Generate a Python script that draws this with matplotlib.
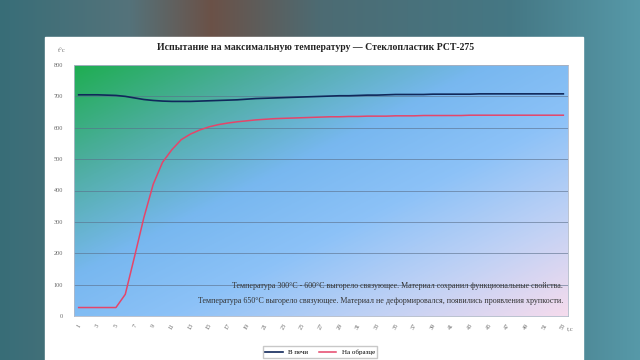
import numpy as np
import matplotlib.pyplot as plt
from matplotlib.colors import LinearSegmentedColormap
from matplotlib.patches import Rectangle

plt.rcParams['font.family'] = ['Liberation Serif', 'DejaVu Serif']

title = "Испытание на максимальную температуру — Стеклопластик РСТ-275"
x = list(range(1, 54))
x_ticks = list(range(1, 54, 2))
oven = [705, 705, 705, 704, 703, 700, 695, 690, 687, 685,
        684, 684, 684, 685, 686, 687, 688, 689, 691, 693,
        694, 695, 696, 697, 698, 699, 700, 701, 702, 702,
        703, 704, 704, 705, 706, 706, 706, 706, 707, 707,
        707, 707, 707, 708, 708, 708, 708, 708, 708, 708,
        708, 708, 708]
sample = [27, 27, 27, 27, 27, 69, 190, 314, 420, 490,
          530, 562, 580, 593, 603, 610, 615, 619, 622, 625,
          627, 629, 630, 631, 632, 633, 634, 635, 635, 636,
          636, 637, 637, 637, 638, 638, 638, 639, 639, 639,
          639, 639, 640, 640, 640, 640, 640, 640, 640, 640,
          640, 640, 640]
note1 = "Температура 300°C - 600°C выгорело связующее. Материал сохранил функциональные свойства."
note2 = "Температура 650°C выгорело связующее. Материал не деформировался, появились проявления хрупкости."

fig = plt.figure(figsize=(6.4, 3.6), dpi=100)

# blurred video background
bg = fig.add_axes([0, 0, 1, 1])
bg_cmap = LinearSegmentedColormap.from_list("bg", [
    (0.0, (0.22, 0.43, 0.47)), (0.2, (0.33, 0.45, 0.48)), (0.33, (0.42, 0.32, 0.28)),
    (0.5, (0.30, 0.42, 0.45)), (0.8, (0.27, 0.47, 0.52)), (1.0, (0.34, 0.60, 0.66))])
bg.imshow(np.linspace(0, 1, 256)[None, :], cmap=bg_cmap, aspect='auto', extent=[0, 1, 0, 1])
bg.add_patch(Rectangle((45 / 640, 0), 538 / 640, 1 - 37 / 360, color='white'))
bg.set_xlim(0, 1)
bg.set_ylim(0, 1)
bg.axis('off')

ax = fig.add_axes([74 / 640, 1 - 316 / 360, 494 / 640, 251 / 360])
grad_cmap = LinearSegmentedColormap.from_list("g", [
    (0.0, (0.12, 0.68, 0.32)), (0.2, (0.30, 0.68, 0.62)), (0.42, (0.47, 0.72, 0.94)),
    (0.6, (0.55, 0.76, 0.97)), (0.8, (0.75, 0.82, 0.96)), (1.0, (0.96, 0.86, 0.93))])
u, v = np.meshgrid(np.linspace(0, 1, 200), np.linspace(0, 1, 200))
ax.imshow((u + v) / 2, cmap=grad_cmap, extent=[0, 1, 0, 1], transform=ax.transAxes,
          aspect='auto', zorder=0)

ax.plot(x, oven, color='#10285a', lw=1.2, label='В печи', zorder=3)
ax.plot(x, sample, color='#e5456a', lw=1.1, label='На образце', zorder=3)

ax.set_xlim(0.5, 53.5)
ax.set_ylim(0, 800)
ax.set_yticks(range(0, 801, 100))
ax.set_xticks(x_ticks)
ax.set_xticklabels([str(t) for t in x_ticks], rotation=60, fontsize=4.5, color='#666666')
ax.tick_params(axis='y', labelsize=4.5, labelcolor='#666666', length=0, pad=8)
ax.tick_params(axis='x', length=0, pad=5)
ax.grid(axis='y', color='#5a6f8a', lw=0.6, alpha=0.7, zorder=1)
for s in ax.spines.values():
    s.set_color('#b0b8c8')
    s.set_linewidth(0.6)

ax.text(0.99, 0.12, note1, transform=ax.transAxes, ha='right', va='center', fontsize=5.8, color='#333333', zorder=4)
ax.text(0.99, 0.06, note2, transform=ax.transAxes, ha='right', va='center', fontsize=5.8, color='#333333', zorder=4)

fig.text(316 / 640, 1 - 47 / 360, title, ha='center', va='center', fontsize=7, fontweight='bold', color='#222222')
fig.text(58 / 640, 1 - 51 / 360, 't°c', ha='left', va='center', fontsize=5, color='#777777')
fig.text(567 / 640, 1 - 330 / 360, 't,c', ha='left', va='center', fontsize=5, color='#777777')

fig.legend(loc='center', bbox_to_anchor=(320 / 640, 1 - 352 / 360), ncol=2, fontsize=5,
           frameon=True, fancybox=False, edgecolor='#bbbbbb', handlelength=2.5,
           borderpad=0.4, columnspacing=1.5)

fig.savefig('out.png', dpi=100)
